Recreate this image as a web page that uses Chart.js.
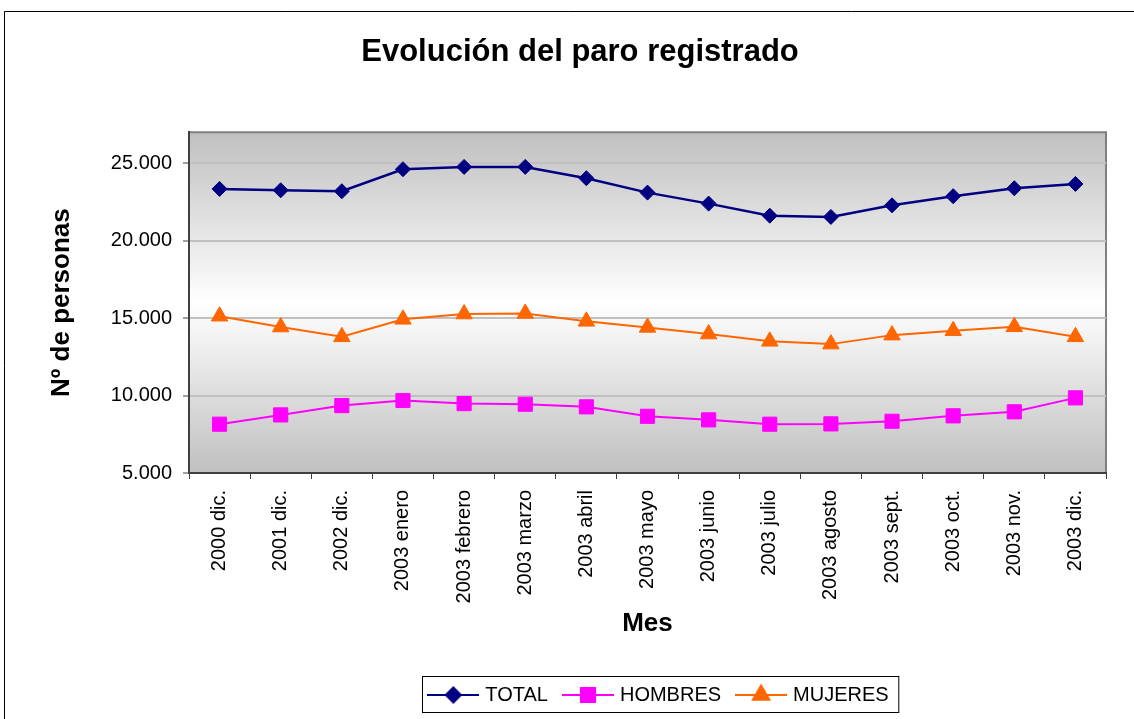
<!DOCTYPE html>
<html>
<head>
<meta charset="utf-8">
<script src="https://cdn.jsdelivr.net/npm/chart.js@4/dist/chart.umd.min.js"></script>
<style>
  body { margin: 0; background: #fff; }
  canvas { display: block; }
</style>
</head>
<body>
<canvas id="paroChart" width="1134" height="719"></canvas>
<script>
const meses = ['2000 dic.', '2001 dic.', '2002 dic.', '2003 enero', '2003 febrero', '2003 marzo',
    '2003 abril', '2003 mayo', '2003 junio', '2003 julio', '2003 agosto', '2003 sept.',
    '2003 oct.', '2003 nov.', '2003 dic.'];
const total = [23340, 23250, 23190, 24610, 24760, 24760, 24030, 23100, 22390, 21610, 21530, 22280, 22870, 23380, 23660];
const hombres = [8150, 8750, 9350, 9680, 9480, 9440, 9270, 8660, 8430, 8150, 8170, 8340, 8690, 8950, 9850];
const mujeres = [15120, 14420, 13790, 14920, 15260, 15300, 14790, 14400, 13970, 13500, 13320, 13900, 14180, 14440, 13790];
const yTicks = [5000, 10000, 15000, 20000, 25000];

const FONT = "'Liberation Sans', Arial, sans-serif";

// miles con punto: 25000 -> 25.000
function miles(v) {
    return String(v).replace(/\B(?=(\d{3})+(?!\d))/g, '.');
}

// icono de leyenda: linea + marcador
function iconoLeyenda(color, estilo, radio) {
    const c = document.createElement('canvas');
    c.width = 52;
    c.height = 24;
    const g = c.getContext('2d');
    g.strokeStyle = color;
    g.lineWidth = 2;
    g.beginPath();
    g.moveTo(0, 12);
    g.lineTo(52, 12);
    g.stroke();
    g.fillStyle = color;
    Chart.helpers.drawPoint(g, {pointStyle: estilo, radius: radio, borderWidth: 1, rotation: 0}, 26, 12);
    g.fill();
    return c;
}

const fondo = {
    id: 'fondo',
    beforeDraw(chart) {
        const {ctx, chartArea: a} = chart;
        ctx.save();
        // marco exterior
        ctx.strokeStyle = '#000';
        ctx.lineWidth = 1;
        ctx.beginPath();
        ctx.moveTo(4.5, 719);
        ctx.lineTo(4.5, 11.5);
        ctx.lineTo(1134, 11.5);
        ctx.stroke();
        // degradado del area de trazado
        const grad = ctx.createLinearGradient(0, a.top, 0, a.bottom);
        grad.addColorStop(0, '#c0c0c0');
        grad.addColorStop(0.5, '#ffffff');
        grad.addColorStop(1, '#c0c0c0');
        ctx.fillStyle = grad;
        ctx.fillRect(a.left, a.top, a.right - a.left, a.bottom - a.top);
        ctx.strokeStyle = '#808080';
        ctx.lineWidth = 2;
        ctx.beginPath();
        ctx.moveTo(a.left, a.top);
        ctx.lineTo(a.right, a.top);
        ctx.lineTo(a.right, a.bottom);
        ctx.stroke();
        ctx.restore();
    },
    afterLayout(chart) {
        // Excel centra titulo y leyenda algo a la derecha
        chart.titleBlock.left += 27;
        chart.titleBlock.right += 27;
        chart.legend.left += 107;
        chart.legend.right += 107;
    },
    afterDraw(chart) {
        const lg = chart.legend;
        const pad = lg.options.labels.padding;
        const ancho = lg.lineWidths[0] - pad;
        const cx = (lg.left + lg.right) / 2;
        const ctx = chart.ctx;
        ctx.save();
        ctx.strokeStyle = '#000';
        ctx.lineWidth = 1;
        ctx.strokeRect(Math.round(cx - ancho / 2 - 9) + 0.5, lg.top + pad - 8.5, ancho + 19, 36);
        ctx.restore();
    }
};

const ctx_paro = document.getElementById('paroChart');

let chart_paro = new Chart(ctx_paro, {
    type: 'line',
    data: {
        labels: meses,
        datasets: [{
            label: 'TOTAL',
            data: total,
            borderColor: '#000080',
            backgroundColor: '#000080',
            borderWidth: 2.5,
            pointStyle: 'rectRot',
            pointRadius: 7.5,
            pointBorderWidth: 1,
        }, {
            label: 'HOMBRES',
            data: hombres,
            borderColor: '#ff00ff',
            backgroundColor: '#ff00ff',
            borderWidth: 2,
            pointStyle: 'rect',
            pointRadius: 10,
            pointBorderWidth: 1,
        }, {
            label: 'MUJERES',
            data: mujeres,
            borderColor: '#ff6600',
            backgroundColor: '#ff6600',
            borderWidth: 2,
            pointStyle: 'triangle',
            pointRadius: 9.5,
            pointBorderWidth: 1,
        }],
    },
    options: {
        responsive: false,
        animation: false,
        layout: {
            padding: {left: 0, right: 28, top: 0, bottom: 4}
        },
        plugins: {
            title: {
                display: true,
                text: 'Evolución del paro registrado',
                color: '#000',
                font: {family: FONT, size: 31, weight: 'bold'},
                padding: {top: 34, bottom: 61}
            },
            legend: {
                position: 'bottom',
                labels: {
                    color: '#000',
                    font: {family: FONT, size: 20},
                    usePointStyle: true,
                    pointStyleWidth: 44,
                    padding: 18,
                    generateLabels(chart) {
                        const estilos = [['rectRot', 7.5], ['rect', 10], ['triangle', 9.5]];
                        return chart.data.datasets.map((ds, i) => ({
                            text: ds.label,
                            fillStyle: ds.backgroundColor,
                            strokeStyle: ds.borderColor,
                            fontColor: '#000',
                            pointStyle: iconoLeyenda(ds.borderColor, estilos[i][0], estilos[i][1]),
                            datasetIndex: i,
                            lineWidth: 0
                        }));
                    }
                }
            },
            tooltip: {enabled: false}
        },
        scales: {
            x: {
                offset: true,
                afterFit(scale) { scale.height = 194; },
                grid: {
                    offset: true,
                    drawOnChartArea: false,
                    tickLength: 6,
                    tickColor: '#404040',
                    tickWidth: 1
                },
                border: {color: '#404040', width: 2},
                ticks: {
                    autoSkip: false,
                    minRotation: 90,
                    maxRotation: 90,
                    padding: 11,
                    color: '#000',
                    font: {family: FONT, size: 20}
                },
                title: {
                    display: true,
                    text: 'Mes',
                    color: '#000',
                    font: {family: FONT, size: 26, weight: 'bold'},
                    padding: {top: 0, bottom: 28}
                }
            },
            y: {
                min: 5000,
                max: 27000,
                afterFit(scale) { scale.width = 189; },
                afterBuildTicks(scale) {
                    scale.ticks = yTicks.map(v => ({value: v}));
                },
                grid: {
                    color: '#c0c0c0',
                    lineWidth: 2,
                    tickLength: 6,
                    tickColor: '#404040',
                    tickWidth: 1
                },
                border: {color: '#404040', width: 2},
                ticks: {
                    padding: 11,
                    color: '#000',
                    font: {family: FONT, size: 20},
                    callback: (v) => miles(v)
                },
                title: {
                    display: true,
                    text: 'Nº de personas',
                    color: '#000',
                    font: {family: FONT, size: 26, weight: 'bold'},
                    padding: {top: 46, bottom: 0}
                }
            }
        },
    },
    plugins: [fondo]
});
</script>
</body>
</html>
